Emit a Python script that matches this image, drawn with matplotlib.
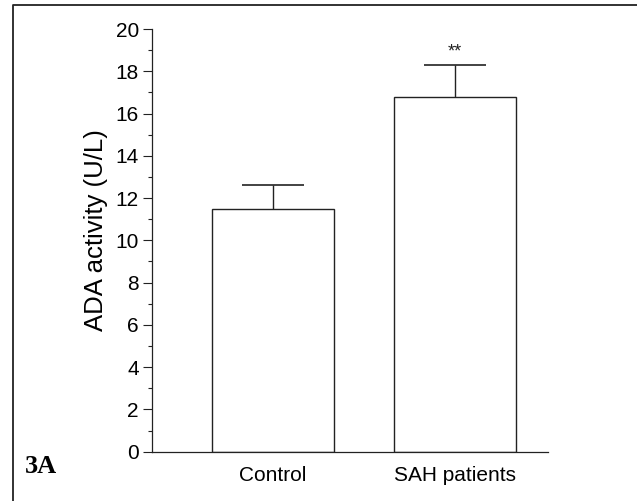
import matplotlib
matplotlib.use('Agg')
import matplotlib.pyplot as plt
from matplotlib.lines import Line2D

# data
groups = ['Control', 'SAH patients']
activity = [11.5, 16.8]      # ADA activity (U/L)
sem = [1.1, 1.5]             # upper error only
marks = ['', '**']

line_col = '#222222'

plt.rcParams['font.family'] = ['Liberation Sans', 'DejaVu Sans']

fig = plt.figure(figsize=(6.37, 5.01), dpi=100)
ax = fig.add_axes([0.2386, 0.0984, 0.6217, 0.8437])

pos = list(range(len(groups)))
ax.bar(pos, activity, width=0.67, color='white', edgecolor=line_col, linewidth=1.0, zorder=2)
eb = ax.errorbar(pos, activity, yerr=[[0] * len(sem), sem], fmt='none', ecolor=line_col,
                 elinewidth=1.0, capsize=22, capthick=1.2, zorder=1)
eb[1][0].set_visible(False)   # no lower cap
for p, v, e, m in zip(pos, activity, sem, marks):
    if m:
        ax.text(p, v + e + 0.2, m, ha='center', va='bottom', fontsize=13, color=line_col)

ax.set_xlim(-0.665, 1.511)
ax.set_ylim(0, 20)
ax.set_yticks(range(0, 21, 2))
ax.set_yticks(range(1, 20, 2), minor=True)
ax.set_xticks(pos)
ax.set_xticklabels(groups, fontsize=15)
ax.tick_params(axis='x', length=0, pad=10)
ax.tick_params(axis='y', which='major', length=6.5, width=0.8, labelsize=15, pad=3, color=line_col)
ax.tick_params(axis='y', which='minor', length=3.2, width=0.8, color=line_col)
ax.set_ylabel('ADA activity (U/L)', fontsize=18.5)
ax.yaxis.set_label_coords(-0.112, 0.524)

for s in ['top', 'right']:
    ax.spines[s].set_visible(False)
for s in ['left', 'bottom']:
    ax.spines[s].set_linewidth(0.9)
    ax.spines[s].set_color(line_col)

# panel frame (top and left only) and label
fig.lines.append(Line2D([13 / 637, 13 / 637, 1.0], [0.0, 1 - 5 / 501, 1 - 5 / 501],
                        transform=fig.transFigure, color=line_col, linewidth=1.3))
fig.text(0.039, 0.069, '3A', fontsize=19, fontweight='bold', family='Liberation Serif',
         ha='left', va='center')

fig.savefig('out.png', dpi=100)
